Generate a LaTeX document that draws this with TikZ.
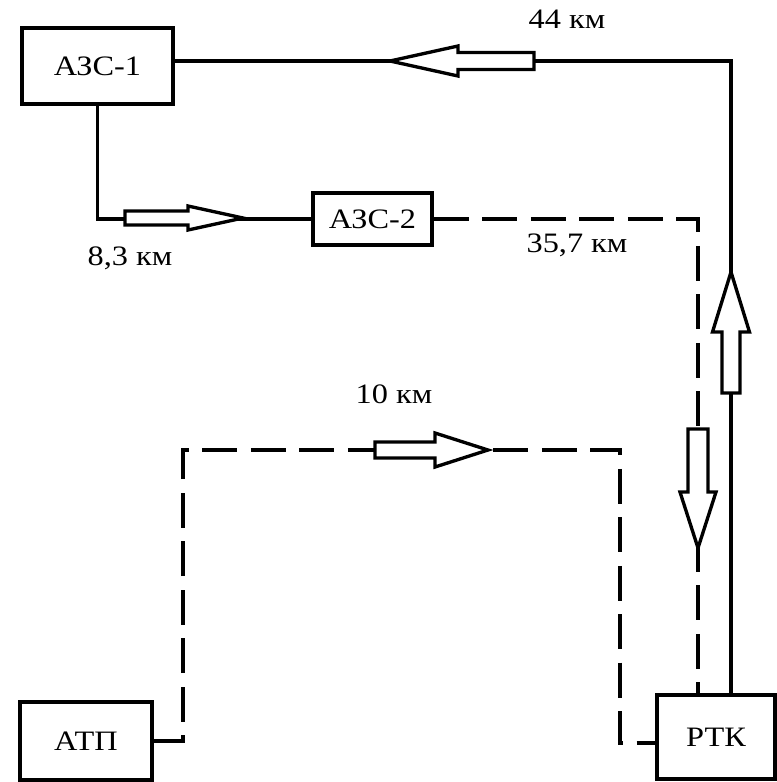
\documentclass[tikz,border=0pt]{standalone}
\usepackage{fontspec}
\setmainfont[FakeStretch=1.15]{Liberation Serif}
\usetikzlibrary{positioning}

\begin{document}
\begin{tikzpicture}[x=0.02cm,y=-0.02cm,
  line width=2.2pt,
  box/.style={draw,rectangle,inner sep=0pt,font=\fontsize{16}{18}\selectfont},
  dist/.style={anchor=base,inner sep=0pt,font=\fontsize{16}{18}\selectfont},
  dashline/.style={dash pattern=on 0.7cm off 0.27cm},
  hollow/.style={draw,fill=white,line width=1.9pt,line join=miter}]

\useasboundingbox (0,0) rectangle (777,782);

% stations
\node[box,minimum width=3.02cm,minimum height=1.52cm] (az1) at (97.5,66) {АЗС-1};
\node[box,minimum width=2.38cm,minimum height=1.04cm] (az2) at (372.5,219) {АЗС-2};
\node[box,minimum width=2.64cm,minimum height=1.56cm] (atp) at (86,741) {АТП};
\node[box,minimum width=2.36cm,minimum height=1.68cm] (rtk) at (716,737) {РТК};

% routes
\draw ([xshift=0.3cm]rtk.north) |- ([yshift=0.1cm]az1.east);
\draw (az1.south) |- (az2.west);
\draw[dashline] (az2.east) -| ([xshift=-0.36cm]rtk.north);

\coordinate (p1) at (183,450);
\coordinate (p2) at (620,450);
\draw[dashline] (atp.east) -| (p1) -- (p2) |- ([yshift=-0.12cm]rtk.west);

% direction arrows
\draw[hollow] (390,61) -- (458,46) -- (458,52.5) -- (534,52.5) -- (534,69.5)
  -- (458,69.5) -- (458,76) -- cycle;
\draw[hollow] (243,218) -- (188,206) -- (188,211) -- (125,211) -- (125,225)
  -- (188,225) -- (188,230) -- cycle;
\draw[hollow] (488,450) -- (435,433) -- (435,442) -- (375,442) -- (375,458)
  -- (435,458) -- (435,467) -- cycle;
\draw[hollow] (731,272) -- (712.5,332) -- (722,332) -- (722,393) -- (740,393)
  -- (740,332) -- (749.5,332) -- cycle;
\draw[hollow] (698,548) -- (680,492) -- (688,492) -- (688,429) -- (708,429)
  -- (708,492) -- (716,492) -- cycle;

% distances
\node[dist] (d1) at (567,28) {44 км};
\node[dist] (d2) at (130,265) {8,3 км};
\node[dist] (d3) at (577,252) {35,7 км};
\node[dist] (d4) at (394,403) {10 км};

\end{tikzpicture}
\end{document}
